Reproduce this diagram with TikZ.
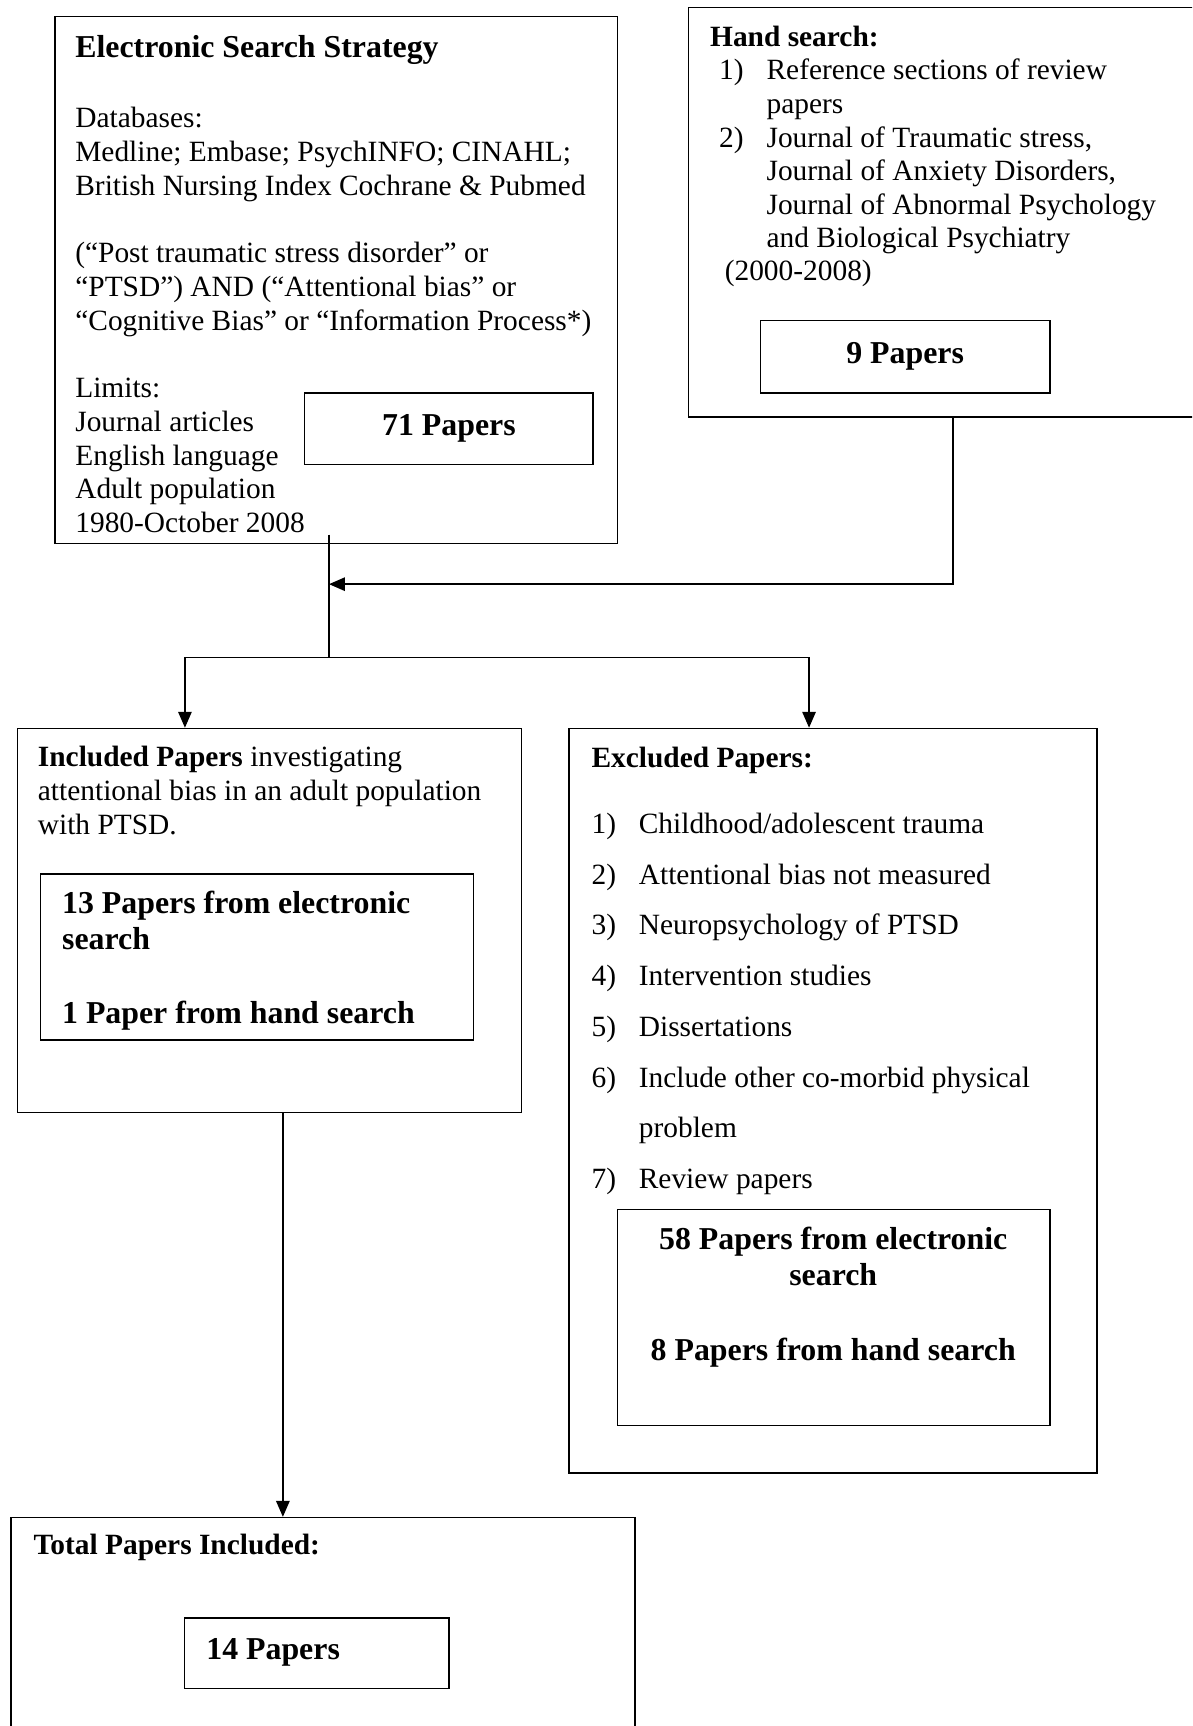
\documentclass[tikz,border=0pt]{standalone}
\usepackage{fontspec}
\setmainfont{Liberation Serif}
\usetikzlibrary{arrows.meta}

\tikzset{
  box/.style={draw, line width=0.6pt, inner sep=0pt},
  txt/.style={anchor=base west, inner sep=0pt, font=\fontsize{12}{14}\selectfont},
  hd/.style={txt, font=\fontsize{12}{14}\selectfont\bfseries},
  big/.style={txt, font=\fontsize{13}{15}\selectfont\bfseries},
  arr/.style={line width=0.6pt, -{Triangle[length=6.5pt,width=5.5pt]}},
  lin/.style={line width=0.6pt}
}

\begin{document}
\begin{tikzpicture}
\useasboundingbox (0,0) rectangle (17.10,-24.76);
\clip (0,0) rectangle (17.10,-24.76);

% electronic search
\node[box, minimum width=8.07cm, minimum height=7.56cm] (es) at (4.825,-4.02) {};
\node[big] (estitle) at (1.074,-0.821) {Electronic Search Strategy};
\node[txt] (es1) at (1.074,-1.832) {Databases:};
\node[txt] (es2) at (1.074,-2.316) {Medline; Embase; PsychINFO; CINAHL;};
\node[txt] (es3) at (1.074,-2.800) {British Nursing Index Cochrane \& Pubmed};
\node[txt] (es4) at (1.074,-3.768) {(“Post traumatic stress disorder” or};
\node[txt] (es5) at (1.074,-4.252) {“PTSD”) AND (“Attentional bias” or};
\node[txt] (es6) at (1.074,-4.736) {“Cognitive Bias” or “Information Process*)};
\node[txt] (es7) at (1.074,-5.704) {Limits:};
\node[txt] (es8) at (1.074,-6.188) {Journal articles};
\node[txt] (es9) at (1.074,-6.672) {English language};
\node[txt] (es10) at (1.074,-7.156) {Adult population};
\node[txt] (es11) at (1.074,-7.640) {1980-October 2008};
\node[box, minimum width=4.14cm, minimum height=1.02cm,
      font=\fontsize{13}{15}\selectfont\bfseries] (p71) at (6.44,-6.15) {71 Papers};

% hand search
\node[box, minimum width=7.42cm, minimum height=5.87cm] (hand) at (13.59,-3.045) {};
\node[hd] (handtitle) at (10.18,-0.663) {Hand search:};
\node[txt] (h1) at (10.31,-1.137) {\makebox[0.68cm][l]{1)}Reference sections of review};
\node[txt] (h2) at (10.99,-1.626) {papers};
\node[txt] (h3) at (10.31,-2.116) {\makebox[0.68cm][l]{2)}Journal of Traumatic stress,};
\node[txt] (h4) at (10.99,-2.590) {Journal of Anxiety Disorders,};
\node[txt] (h5) at (10.99,-3.079) {Journal of Abnormal Psychology};
\node[txt] (h6) at (10.99,-3.553) {and Biological Psychiatry};
\node[txt] (h7) at (10.39,-4.026) {(2000-2008)};
\node[box, minimum width=4.15cm, minimum height=1.04cm,
      font=\fontsize{13}{15}\selectfont\bfseries] (p9) at (12.985,-5.116) {9 Papers};

% joining lines
\coordinate (hjoin) at (13.67,-8.38);
\coordinate (join) at (4.72,-8.38);
\coordinate (split) at (4.72,-9.43);
\coordinate (lft) at (2.653,-9.43);
\coordinate (rgt) at (11.606,-9.43);
\coordinate (dn) at (4.058,0);

% included
\node[box, minimum width=7.23cm, minimum height=5.51cm] (inc) at (3.865,-13.205) {};
\node[txt] (inc1) at (0.537,-10.99) {\textbf{Included Papers} investigating};
\node[txt] (inc2) at (0.537,-11.48) {attentional bias in an adult population};
\node[txt] (inc3) at (0.537,-11.97) {with PTSD.};
\node[box, minimum width=6.21cm, minimum height=2.38cm] (incin) at (3.685,-13.73) {};
\node[big] (incin1) at (0.884,-13.106) {13 Papers from electronic};
\node[big] (incin2) at (0.884,-13.627) {search};
\node[big] (incin3) at (0.884,-14.685) {1 Paper from hand search};

% excluded
\node[box, minimum width=7.58cm, minimum height=10.68cm] (exc) at (11.95,-15.79) {};
\node[hd] (exctitle) at (8.479,-11.006) {Excluded Papers:};
\node[txt] (x1) at (8.479,-11.953) {\makebox[0.679cm][l]{1)}Childhood/adolescent trauma};
\node[txt] (x2) at (8.479,-12.695) {\makebox[0.679cm][l]{2)}Attentional bias not measured};
\node[txt] (x3) at (8.479,-13.406) {\makebox[0.679cm][l]{3)}Neuropsychology of PTSD};
\node[txt] (x4) at (8.479,-14.132) {\makebox[0.679cm][l]{4)}Intervention studies};
\node[txt] (x5) at (8.479,-14.874) {\makebox[0.679cm][l]{5)}Dissertations};
\node[txt] (x6) at (8.479,-15.601) {\makebox[0.679cm][l]{6)}Include other co-morbid physical};
\node[txt] (x6b) at (9.158,-16.311) {problem};
\node[txt] (x7) at (8.479,-17.053) {\makebox[0.679cm][l]{7)}Review papers};
\node[box, minimum width=6.20cm, minimum height=3.10cm] (excin) at (11.96,-18.90) {};
\node[big, anchor=base] (excin1) at (11.953,-17.922) {58 Papers from electronic};
\node[big, anchor=base] (excin2) at (11.953,-18.443) {search};
\node[big, anchor=base] (excin3) at (11.953,-19.516) {8 Papers from hand search};

% total
\node[box, minimum width=8.95cm, minimum height=3.23cm] (tot) at (4.635,-23.385) {};
\node[hd] (tottitle) at (0.474,-22.296) {Total Papers Included:};
\node[box, minimum width=3.79cm, minimum height=1.01cm] (p14) at (4.545,-23.715) {};
\node[big] (p14txt) at (2.953,-23.80) {14 Papers};

% connectors
\draw[arr] (hand.south -| hjoin) -- (hjoin) -- (join);
\draw[lin] ([yshift=4pt]es.south -| join) -- (split);
\draw[arr] (split) -- (lft) -- (lft |- inc.north);
\draw[arr] (split) -- (rgt) -- (rgt |- exc.north);
\draw[arr] (inc.south -| dn) -- (dn |- tot.north);
\end{tikzpicture}
\end{document}
